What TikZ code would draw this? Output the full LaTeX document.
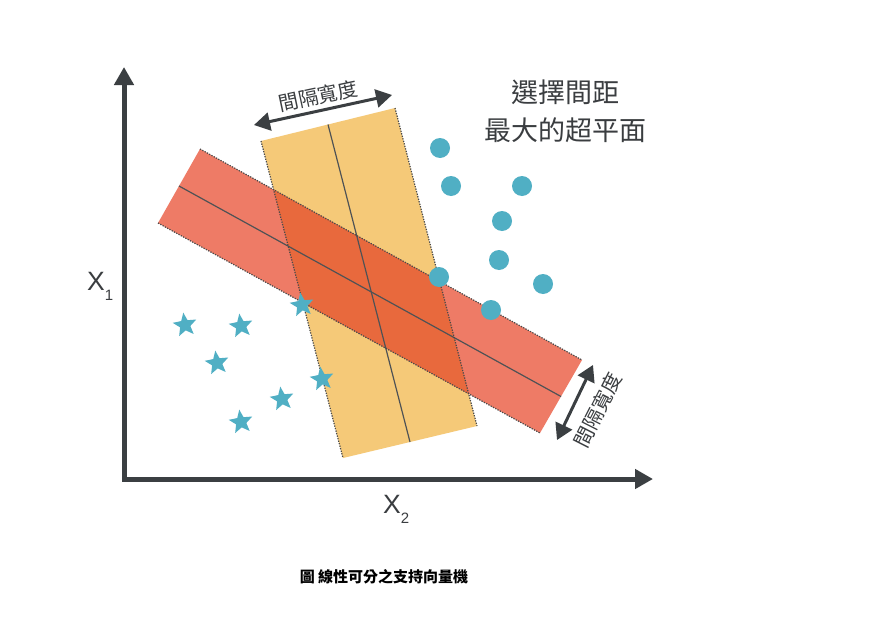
\documentclass[tikz,border=0pt]{standalone}
\usepackage{fontspec}
\newfontfamily\cjk{Noto Sans CJK TC}
\newfontfamily\latf{Liberation Sans}
\usetikzlibrary{arrows.meta,shapes.geometric}
\definecolor{axisc}{HTML}{3B3F42}
\definecolor{txtc}{HTML}{3A3D40}
\definecolor{yelc}{HTML}{F5C978}
\definecolor{redc}{HTML}{EE7B66}
\definecolor{ovlc}{HTML}{E8693D}
\definecolor{teal}{HTML}{50AFC4}
\definecolor{dotc}{HTML}{4A4A4A}
\tikzset{
  axisline/.style={draw=axisc, line width=5pt, line join=miter,
    {Triangle[length=18pt,width=19pt]}-{Triangle[length=18pt,width=19pt]}},
  dimarrow/.style={draw=axisc, line width=3pt,
    {Triangle[length=16pt,width=18pt]}-{Triangle[length=16pt,width=18pt]}},
  dotline/.style={draw=dotc, line width=1.2pt, dash pattern=on 1.3pt off 1.3pt},
  midline/.style={draw=axisc!90, line width=1.2pt},
  dot/.style={circle, fill=teal, minimum size=20pt, inner sep=0pt},
  starpt/.style={star, star points=5, star point ratio=2.3, fill=teal, minimum size=25pt, inner sep=0pt, rotate=8},
  axislbl/.style={text=txtc, inner sep=0pt, font=\latf\fontsize{26.5}{26.5}\selectfont},
  cjklbl/.style={text=txtc, inner sep=0pt, font=\cjk\fontsize{20}{20}\selectfont},
}
\newcommand{\axsub}[1]{\raisebox{-10pt}{\fontsize{15}{15}\selectfont #1}}
\begin{document}
\begin{tikzpicture}[x=1pt,y=-1pt]
\useasboundingbox[fill=white] (0,0) rectangle (875,618);
% red band
\coordinate (A) at (200,149);
\coordinate (B) at (582,360);
\coordinate (C) at (540,433);
\coordinate (D) at (158,223);
% yellow band
\coordinate (E) at (261,141);
\coordinate (F) at (395,108);
\coordinate (G) at (477,426);
\coordinate (H) at (343,458);
\fill[yelc] (E) -- (F) -- (G) -- (H) -- cycle;
\fill[redc] (A) -- (B) -- (C) -- (D) -- cycle;
\begin{scope}
  \clip (E) -- (F) -- (G) -- (H) -- cycle;
  \fill[ovlc] (A) -- (B) -- (C) -- (D) -- cycle;
\end{scope}
\coordinate (rm1) at (179,186);
\coordinate (rm2) at (561,396.5);
\coordinate (ym1) at (328,124.5);
\coordinate (ym2) at (410,442);
\draw[midline] (rm1) -- (rm2);
\draw[midline] (ym1) -- (ym2);
\draw[dotline] (A) -- (B);
\draw[dotline] (D) -- (C);
\draw[dotline] (E) -- (H);
\draw[dotline] (F) -- (G);
% axes
\coordinate (ytip) at (124,67);
\coordinate (orig) at (124,479);
\coordinate (xtip) at (653,479);
\draw[axisline] (ytip) -- (orig) -- (xtip);
\node[axislbl, anchor=base west] (x1) at (87,290) {X\axsub{1}};
\node[axislbl, anchor=base west] (x2) at (383,513) {X\axsub{2}};
% circles
\node[dot] (c1) at (440,148) {};
\node[dot] (c2) at (451,186) {};
\node[dot] (c3) at (522,186) {};
\node[dot] (c4) at (502,221) {};
\node[dot] (c5) at (499,260) {};
\node[dot] (c6) at (439,277) {};
\node[dot] (c7) at (543,284) {};
\node[dot] (c8) at (491,310) {};
% stars
\node[starpt] (s1) at (185,325) {};
\node[starpt] (s2) at (241,326) {};
\node[starpt] (s3) at (217,363) {};
\node[starpt] (s4) at (302,305) {};
\node[starpt] (s5) at (322,379) {};
\node[starpt] (s6) at (282,399) {};
\node[starpt] (s7) at (241,422) {};
% width arrows
\coordinate (ta1) at (254,125);
\coordinate (ta2) at (392,95);
\draw[dimarrow] (ta1) -- (ta2);
\node[cjklbl, rotate=12] (tl) at (318,96) {間隔寬度};
\coordinate (ra1) at (557,440);
\coordinate (ra2) at (593,365);
\draw[dimarrow] (ra1) -- (ra2);
\node[cjklbl, rotate=63] (rl) at (598,410) {間隔寬度};
% title
\node[text=txtc, align=center, font=\cjk\fontsize{27}{38}\selectfont] (title) at (565,111) {選擇間距\\最大的超平面};
% caption
\node[text=black, font=\cjk\bfseries\fontsize{15}{15}\selectfont] (cap) at (384,577) {圖\ 線性可分之支持向量機};
\end{tikzpicture}
\end{document}
